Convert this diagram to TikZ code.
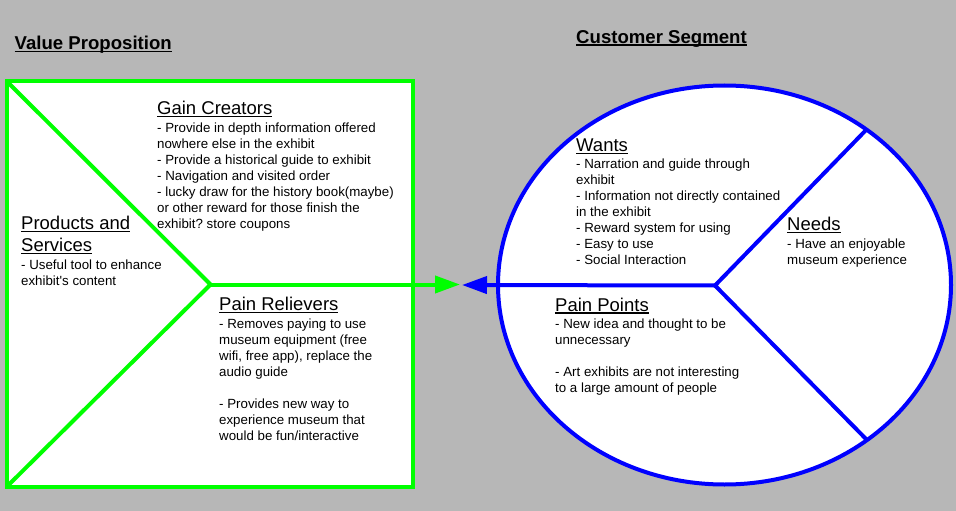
\documentclass[tikz,border=0pt]{standalone}
\usepackage{fontspec}
\newfontfamily\arial{Liberation Sans}
\usetikzlibrary{arrows.meta}
\frenchspacing

\definecolor{canvas}{RGB}{183,183,183}
\definecolor{vpgreen}{RGB}{0,255,0}
\definecolor{csblue}{RGB}{0,0,255}

% underline at a fixed offset below the baseline: #1 offset, #2 thickness, #3 text
\newsavebox\ulbox
\newcommand\ulined[3]{\sbox\ulbox{#3}\rlap{\rule[-#1]{\wd\ulbox}{#2}}\usebox\ulbox}
% left-aligned lines on a fixed 16pt grid, baseline of the first line is the box baseline
\newcommand\textlines[1]{\vtop{\baselineskip=16pt\lineskiplimit=-20pt\halign{##\hfil\cr#1\crcr}}}

\tikzset{
  title/.style={inner sep=0pt, anchor=base west, font=\arial\bfseries\fontsize{18.6}{22}\selectfont},
  head/.style={inner sep=0pt, anchor=base west, font=\arial\fontsize{18.5}{22}\selectfont},
  body/.style={inner sep=0pt, anchor=base west, font=\arial\fontsize{13.3}{16}\selectfont},
  greenline/.style={draw=vpgreen, line width=4pt},
  blueline/.style={draw=csblue, line width=4pt},
  tip/.style={-{Triangle[length=25pt,width=17pt]}}
}

\begin{document}
\begin{tikzpicture}[x=1pt,y=-1pt]
  % canvas
  \fill[canvas] (0,0) rectangle (956,511);
  \useasboundingbox (0,0) rectangle (956,511);

  % value proposition frame
  \coordinate (vpTL) at (6.5,81);
  \coordinate (vpBR) at (412.5,487);
  \coordinate (vpBL) at (6.5,487);
  \coordinate (vpHub) at (210.5,284.5);
  \coordinate (vpTip) at (460,284.5);
  \filldraw[fill=white, greenline] (vpTL) rectangle (vpBR);
  \draw[greenline] (vpTL) -- (vpHub) -- (vpBL);

  % customer segment circle
  \coordinate (csC) at (724.5,285);
  \coordinate (csHub) at (715,285.5);
  \coordinate (csUp) at (867,129);
  \coordinate (csDown) at (867,440);
  \coordinate (csTip) at (462,285);
  \filldraw[fill=white, blueline] (csC) ellipse [x radius=226.5, y radius=199.5];
  \draw[blueline] (csUp) -- (csHub) -- (csDown);

  % arrows meeting in the middle
  \draw[greenline, tip] (vpHub) -- (vpTip);
  \draw[blueline, tip] (csHub) -- (csTip);

  % titles
  \node[title] (vpTitle) at (14.5,50) {\ulined{2.4pt}{1.6pt}{Value Proposition}};
  \node[title] (csTitle) at (576,43.5) {\ulined{2.4pt}{1.6pt}{Customer Segment}};

  % gain creators
  \node[head] (gainHead) at (157,114.3) {\ulined{2.6pt}{1.2pt}{Gain Creators}};
  \node[body] (gainBody) at (157,132) {\textlines{%
    - Provide in depth information offered\cr
    nowhere else in the exhibit\cr
    - Provide a historical guide to exhibit\cr
    - Navigation and visited order\cr
    - lucky draw for the history book(maybe)\cr
    or other reward for those finish the\cr
    exhibit? store coupons}};

  % products and services
  \node[head] (prodHead) at (21,229.5) {\vtop{\baselineskip=22pt\halign{#\hfil\cr
    \ulined{2.6pt}{1.2pt}{Products and}\cr
    \ulined{2.6pt}{1.2pt}{Services}\crcr}}};
  \node[body] (prodBody) at (21,269) {\textlines{%
    - Useful tool to enhance\cr
    exhibit's content}};

  % pain relievers
  \node[head] (relHead) at (219,310.7) {\ulined{2.6pt}{1.2pt}{Pain Relievers}};
  \node[body] (relBody) at (219,328) {\textlines{%
    - Removes paying to use\cr
    museum equipment (free\cr
    wifi, free app), replace the\cr
    audio guide\cr
    \cr
    - Provides new way to\cr
    experience museum that\cr
    would be fun/interactive}};

  % wants
  \node[head] (wantHead) at (576,151.7) {\ulined{2.6pt}{1.2pt}{Wants}};
  \node[body] (wantBody) at (576,168) {\textlines{%
    - Narration and guide through\cr
    exhibit\cr
    - Information not directly contained\cr
    in the exhibit\cr
    - Reward system for using\cr
    - Easy to use\cr
    - Social Interaction}};

  % needs
  \node[head] (needHead) at (787,230.7) {\ulined{2.6pt}{1.2pt}{Needs}};
  \node[body] (needBody) at (787,248) {\textlines{%
    - Have an enjoyable\cr
    museum experience}};

  % pain points
  \node[head] (ppHead) at (555,311) {\ulined{2.6pt}{1.2pt}{Pain Points}};
  \node[body] (ppBody) at (555,328) {\textlines{%
    - New idea and thought to be\cr
    unnecessary\cr
    \cr
    - Art exhibits are not interesting\cr
    to a large amount of people}};
\end{tikzpicture}
\end{document}
